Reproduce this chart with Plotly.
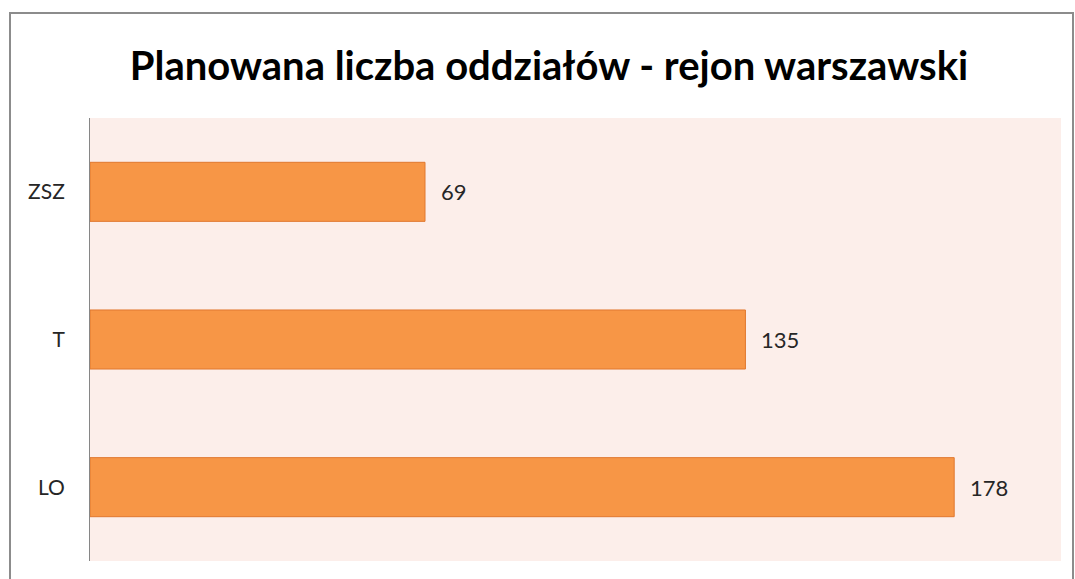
import plotly.graph_objects as go

categories = ["ZSZ", "T", "LO"]
values = [69, 135, 178]
title_text = "Planowana liczba oddziałów - rejon warszawski"

W, H = 1075, 579
L, R, T, B = 90, 14, 118, 18
pw, ph = W - L - R, H - T - B

def px_x(px):
    return (px - L) / pw

def px_y(py):
    return (H - B - py) / ph

fig = go.Figure()
fig.add_trace(go.Bar(
    y=categories, x=values, orientation="h",
    marker=dict(color="#F79646", line=dict(color="#E0782F", width=1)),
    width=0.4, hoverinfo="skip",
))

for c, v in zip(categories, values):
    fig.add_annotation(x=v, y=c, text=str(v), showarrow=False, xanchor="left",
                       xshift=14, font=dict(family="Lato", size=22, color="#262626"))

fig.add_shape(type="rect", xref="paper", yref="paper",
              x0=px_x(10), x1=px_x(1073), y0=px_y(600), y1=px_y(13),
              line=dict(color="#8C8C8C", width=2), fillcolor="rgba(0,0,0,0)", layer="below")

fig.update_layout(
    width=W, height=H,
    margin=dict(l=L, r=R, t=T, b=B),
    paper_bgcolor="white", plot_bgcolor="#FCEEEA",
    title=dict(text="<b>" + title_text + "</b>", x=549 / W, xanchor="center",
               y=1 - 66 / H, yanchor="middle",
               font=dict(family="Lato", size=40, color="black")),
    showlegend=False,
    xaxis=dict(range=[0, 200], visible=False, fixedrange=True),
    yaxis=dict(autorange="reversed", showline=True, linecolor="#868686", linewidth=1,
               ticks="", ticklabelstandoff=20, showgrid=False, fixedrange=True,
               tickfont=dict(family="Lato", size=21, color="#262626")),
)

fig.write_html("out.html", config={"displayModeBar": False})
with open("out.html", encoding="utf-8") as f:
    html = f.read()
html = html.replace("<body>", '<body style="margin:0;overflow:hidden">', 1)
with open("out.html", "w", encoding="utf-8") as f:
    f.write(html)
